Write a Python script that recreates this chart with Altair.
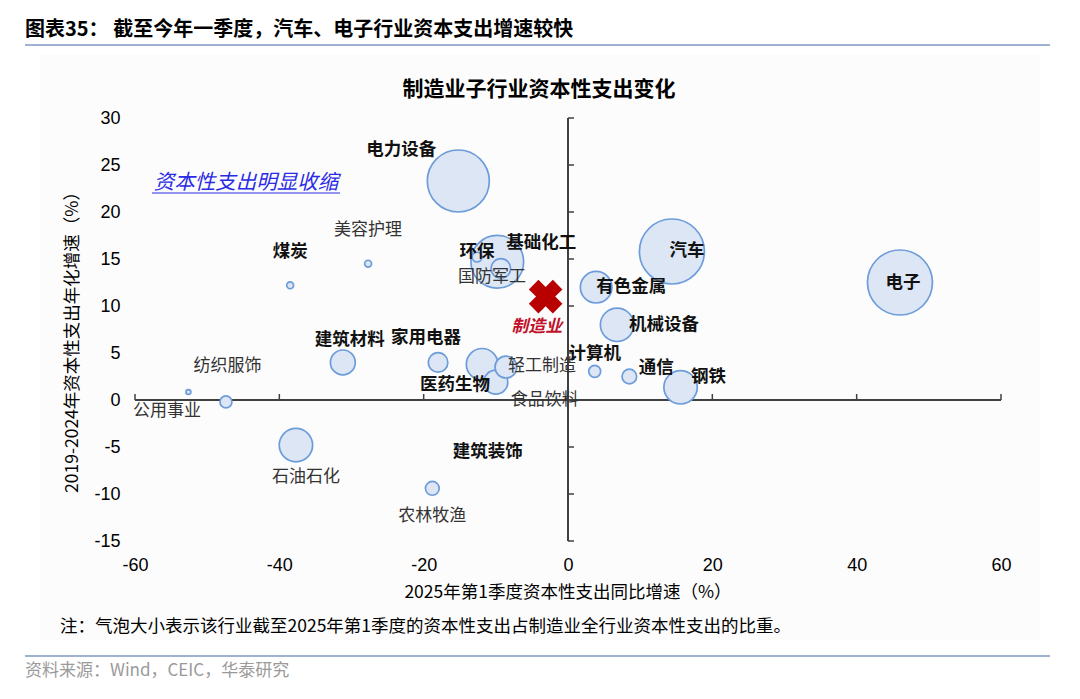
import altair as alt
import pandas as pd

# ---------------- data ----------------
industries = ["电力设备", "基础化工", "环保", "国防军工", "美容护理", "煤炭", "纺织服饰",
              "公用事业", "建筑材料", "家用电器", "医药生物", "轻工制造", "食品饮料",
              "石油石化", "建筑装饰", "农林牧渔", "有色金属", "汽车", "电子", "机械设备",
              "计算机", "通信", "钢铁"]
growth_2025q1 = [-15.2, -9.8, -12.6, -9.3, -27.7, -38.5, -52.6,
                 -47.4, -31.2, -18.0, -11.9, -8.6, -10.0,
                 -37.7, -15.4, -18.8, 3.9, 14.4, 46.0, 6.8,
                 3.7, 8.5, 15.6]
cagr_2019_2024 = [23.3, 14.7, 15.2, 14.0, 14.5, 12.2, 0.85,
                  -0.2, 4.0, 4.0, 3.8, 3.5, 1.9,
                  -4.8, -4.9, -9.4, 12.0, 15.8, 12.5, 8.0,
                  3.05, 2.5, 1.35]
capex_share = [16.2, 11.7, 0.4, 1.6, 0.2, 0.2, 0.1,
               0.6, 2.6, 1.6, 4.2, 2.0, 2.4,
               4.7, 0.07, 0.8, 4.2, 17.8, 17.8, 4.7,
               0.6, 0.9, 4.7]
bold_label = [True, True, True, False, False, True, False,
              False, True, True, True, False, False,
              False, True, False, True, True, True, True,
              True, True, True]

mfg_name = ["制造业"]
mfg_growth = [-3.1]
mfg_cagr = [11.0]

x_ticks = [-60, -40, -20, 0, 20, 40, 60]
y_ticks = [-15, -10, -5, 0, 5, 10, 15, 20, 25, 30]

header_text = ["图表35：  截至今年一季度，汽车、电子行业资本支出增速较快"]
chart_title = ["制造业子行业资本性支出变化"]
x_title = ["2025年第1季度资本性支出同比增速（%）"]
y_title = ["2019-2024年资本性支出年化增速（%）"]
note_text = ["注：气泡大小表示该行业截至2025年第1季度的资本性支出占制造业全行业资本性支出的比重。"]
source_text = ["资料来源：Wind，CEIC，华泰研究"]
annot_text = ["资本性支出明显收缩"]

# ---------------- layout (pixels) ----------------
W, H = 866, 423
XD, YD = [-60, 60], [-15, 30]
PX_X = W / (XD[1] - XD[0])
PX_Y = H / (YD[1] - YD[0])
label_offsets = {  # pixel offsets of each label from its bubble centre
    "电力设备": (-57, -31), "基础化工": (44, -19), "环保": (0, -5), "国防军工": (-9, 9),
    "美容护理": (0, -34), "煤炭": (0, -33), "纺织服饰": (39, -26), "公用事业": (-59, 9),
    "建筑材料": (7, -22), "家用电器": (-12, -24), "医药生物": (-27, 21), "轻工制造": (36, -1),
    "食品饮料": (49, 18), "石油石化": (10, 32), "建筑装饰": (31, 6), "农林牧渔": (0, 28),
    "有色金属": (35, 0), "汽车": (15, 0), "电子": (3, 0), "机械设备": (47, 0),
    "计算机": (0, -17), "通信": (27, -9), "钢铁": (28, -10),
}

df = pd.DataFrame({"name": industries, "x": growth_2025q1, "y": cagr_2019_2024,
                   "share": capex_share, "bold": bold_label})
df["lx"] = [x + label_offsets[n][0] / PX_X for n, x in zip(df["name"], df["x"])]
df["ly"] = [y - label_offsets[n][1] / PX_Y for n, y in zip(df["name"], df["y"])]

mfg = pd.DataFrame({"name": mfg_name, "x": mfg_growth, "y": mfg_cagr})
mfg["ly"] = mfg["y"] - 30 / PX_Y
mfg["lx"] = mfg["x"] - 9 / PX_X

CJK = "Noto Sans CJK SC"
NUM = "Liberation Sans"

xs = alt.Scale(domain=XD, nice=False, zero=False)
ys = alt.Scale(domain=YD, nice=False, zero=False)

# background panel
bg = alt.Chart(pd.DataFrame({"k": [0]})).mark_rect(fill="#fcfcfc").encode(
    x=alt.value(-95), x2=alt.value(905), y=alt.value(-63), y2=alt.value(522))

# base with axes (labels only)
axis_common = dict(domain=False, ticks=False, grid=False, labelPadding=15, labelFontSize=18,
                   labelFont=NUM, labelColor="#000", title=None, zindex=2, labelFlush=False,
                   labelOverlap=False, labelExpr="'' + datum.value")
base_axes = alt.Chart(pd.DataFrame({"x": [0], "y": [0]})).mark_point(opacity=0).encode(
    x=alt.X("x:Q", scale=xs, axis=alt.Axis(values=x_ticks, **axis_common)),
    y=alt.Y("y:Q", scale=ys, axis=alt.Axis(values=y_ticks, **axis_common)),
)

AX_COLOR = "#404040"
hline = alt.Chart(pd.DataFrame({"x": [XD[0]], "x2": [XD[1]], "y": [0]})).mark_rule(
    color=AX_COLOR, strokeWidth=2).encode(
    x=alt.X("x:Q", scale=xs), x2="x2:Q", y=alt.Y("y:Q", scale=ys))
vline = alt.Chart(pd.DataFrame({"x": [0], "y": [YD[0]], "y2": [YD[1]]})).mark_rule(
    color=AX_COLOR, strokeWidth=2).encode(
    x=alt.X("x:Q", scale=xs), y=alt.Y("y:Q", scale=ys), y2="y2:Q")
yt = alt.Chart(pd.DataFrame({"v": y_ticks, "z": [0] * len(y_ticks)})).mark_rule(
    color=AX_COLOR, strokeWidth=1.5, x2Offset=6).encode(
    x=alt.X("z:Q", scale=xs), x2="z:Q", y=alt.Y("v:Q", scale=ys))
xt_vals = [v for v in x_ticks if v != 0]
xt = alt.Chart(pd.DataFrame({"v": xt_vals, "z": [0] * len(xt_vals)})).mark_rule(
    color=AX_COLOR, strokeWidth=1.5, y2Offset=-6).encode(
    x=alt.X("v:Q", scale=xs), y=alt.Y("z:Q", scale=ys), y2="z:Q")

bubbles = alt.Chart(df).mark_circle(opacity=1, fill="#dce6f4", stroke="#6d9cda",
                                    strokeWidth=1.7).encode(
    x=alt.X("x:Q", scale=xs), y=alt.Y("y:Q", scale=ys),
    size=alt.Size("share:Q", scale=alt.Scale(type="linear", domain=[0, 17.8], range=[0, 4225]),
                  legend=None),
    order=alt.Order("share:Q", sort="descending"))

lab_bold = alt.Chart(df[df["bold"]]).mark_text(font=CJK, fontSize=17.5, fontWeight="bold",
                                               color="#111").encode(
    x=alt.X("lx:Q", scale=xs), y=alt.Y("ly:Q", scale=ys), text="name:N")
lab_reg = alt.Chart(df[~df["bold"]]).mark_text(font=CJK, fontSize=17, fontWeight="normal",
                                               color="#333").encode(
    x=alt.X("lx:Q", scale=xs), y=alt.Y("ly:Q", scale=ys), text="name:N")

mfg_mark = alt.Chart(mfg).mark_point(shape="cross", angle=45, filled=True, color="#b80000",
                                     size=1150, opacity=1).encode(
    x=alt.X("x:Q", scale=xs), y=alt.Y("y:Q", scale=ys))
mfg_lab = alt.Chart(mfg).mark_text(font=CJK, fontSize=17, fontWeight="bold", fontStyle="italic",
                                   color="#c0102a").encode(
    x=alt.X("lx:Q", scale=xs), y=alt.Y("ly:Q", scale=ys), text="name:N")


def free_text(txt, x, y, size, weight="normal", color="#000", align="center", angle=0,
              style="normal", font=CJK):
    return alt.Chart(pd.DataFrame({"t": txt})).mark_text(
        font=font, fontSize=size, fontWeight=weight, color=color, align=align,
        baseline="middle", angle=angle, fontStyle=style).encode(
        x=alt.value(x), y=alt.value(y), text="t:N")


def line(x1, x2, y, color, w):
    return alt.Chart(pd.DataFrame({"k": [0]})).mark_rule(color=color, strokeWidth=w).encode(
        x=alt.value(x1), x2=alt.value(x2), y=alt.value(y))


header = free_text(header_text, -110, -88, 20, "bold", "#000", "left")
header_line = line(-110, 915, -73, "#9fb2cf", 2)
title = free_text(chart_title, 404, -28, 21, "bold", "#000")
xtitle = free_text(x_title, 433, 475, 17.5, "normal", "#000")
ytitle = free_text(y_title, -62, 220, 17.5, "normal", "#000", angle=270)
note = free_text(note_text, -75, 509, 17.5, "normal", "#000", "left")
bottom_line = line(-110, 915, 538, "#9fb2cf", 2)
source = free_text(source_text, -110, 553, 17, "normal", "#9a9a9a", "left")
annot = free_text(annot_text, 111, 65, 20.5, "normal", "#2b2be6", "center", style="italic")
annot_line = line(17, 205, 75, "#2b2be6", 1.2)

chart = alt.layer(
    bg, base_axes, hline, vline, yt, xt, bubbles, lab_reg, lab_bold, mfg_mark, mfg_lab,
    header, header_line, title, xtitle, ytitle, note, bottom_line, source, annot, annot_line
).properties(
    width=W, height=H,
    padding={"left": 127, "top": 110, "right": 69, "bottom": 148},
    autosize=alt.AutoSizeParams(type="none"),
    background="white",
).configure_view(stroke=None)

chart.save("out.html", embed_options={"renderer": "svg", "actions": False})
